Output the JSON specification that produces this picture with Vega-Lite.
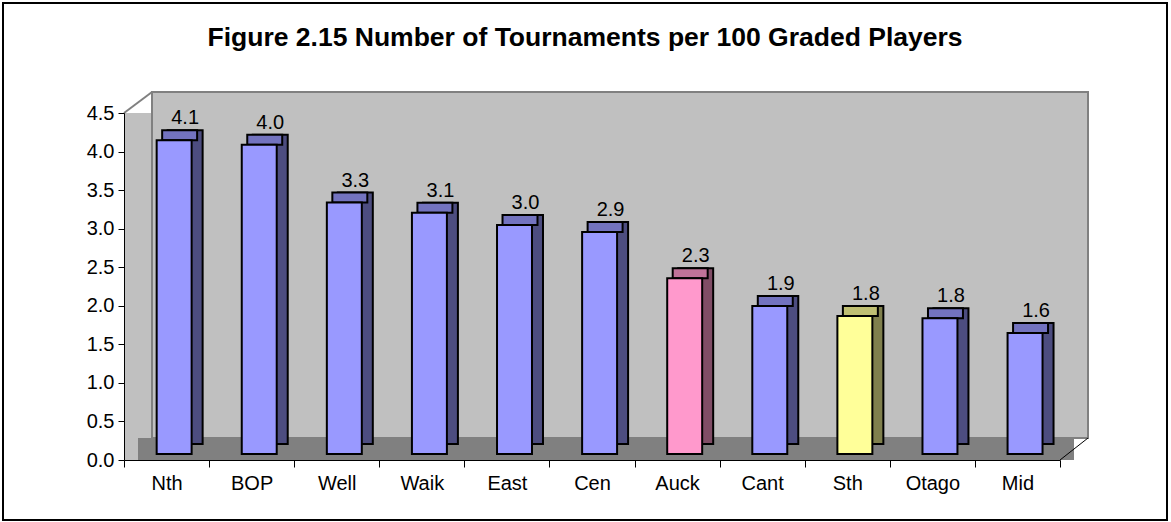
{
  "$schema": "https://vega.github.io/schema/vega-lite/v6.json",
  "width": 1164,
  "height": 517,
  "autosize": "none",
  "padding": {"left": 3, "top": 3, "right": 4, "bottom": 2},
  "background": "white",
  "config": {
    "view": {"stroke": "black", "strokeWidth": 2},
    "font": "Liberation Sans"
  },
  "title": {
    "text": "Figure 2.15 Number of Tournaments per 100 Graded Players",
    "font": "Liberation Sans",
    "fontSize": 26.5,
    "fontWeight": "bold",
    "color": "black",
    "anchor": "middle",
    "offset": -69,
    "baseline": "alphabetic"
  },
  "data": {
    "values": [
      {"cat": "Nth", "value": 4.07},
      {"cat": "BOP", "value": 4.01},
      {"cat": "Well", "value": 3.26},
      {"cat": "Waik", "value": 3.13},
      {"cat": "East", "value": 2.97},
      {"cat": "Cen", "value": 2.88},
      {"cat": "Auck", "value": 2.28},
      {"cat": "Cant", "value": 1.92},
      {"cat": "Sth", "value": 1.79},
      {"cat": "Otago", "value": 1.76},
      {"cat": "Mid", "value": 1.57}
    ]
  },
  "layer": [
    {
      "data": {"values": [{}]},
      "mark": {"type": "rect", "fill": "#C0C0C0", "strokeWidth": 0},
      "encoding": {
        "x": {
          "datum": "Nth", "type": "nominal", "bandPosition": 0,
          "scale": {"domain": ["Nth","BOP","Well","Waik","East","Cen","Auck","Cant","Sth","Otago","Mid"], "range": [121, 1057], "paddingInner": 0, "paddingOuter": 0},
          "axis": {"title": null, "orient": "bottom", "offset": -60, "zindex": 1, "tickBand": "extent", "tickSize": 7, "tickColor": "black", "tickWidth": 1, "domainColor": "black", "domainWidth": 1, "labelAngle": 0, "labelFontSize": 20, "labelFont": "Liberation Sans", "labelColor": "black", "labelPadding": 6, "grid": false}
        },
        "x2": {"datum": "Mid", "bandPosition": 1},
        "y": {
          "datum": 0, "type": "quantitative",
          "scale": {"domain": [0, 4.5], "range": [457, 110], "nice": false},
          "axis": {"title": null, "orient": "left", "offset": -121, "zindex": 1, "values": [0, 0.5, 1, 1.5, 2, 2.5, 3, 3.5, 4, 4.5], "format": ".1f", "tickSize": 6, "tickColor": "black", "tickWidth": 1, "domainColor": "black", "domainWidth": 1, "labelFontSize": 20, "labelFont": "Liberation Sans", "labelColor": "black", "labelPadding": 4, "grid": false}
        },
        "y2": {"datum": 4.5}
      }
    },
    {
      "data": {"values": [{}]},
      "mark": {"type": "rect", "fill": "#C0C0C0", "stroke": "#808080", "strokeWidth": 2, "xOffset": 28, "x2Offset": 28, "yOffset": -22, "y2Offset": -21},
      "encoding": {
        "x": {"datum": "Nth", "type": "nominal", "bandPosition": 0},
        "x2": {"datum": "Mid", "bandPosition": 1},
        "y": {"datum": 0, "type": "quantitative"},
        "y2": {"datum": 4.5}
      }
    },
    {
      "data": {"values": [{}]},
      "mark": {"type": "rect", "fill": "#808080", "strokeWidth": 0, "xOffset": 14, "x2Offset": 14, "yOffset": 0, "y2Offset": -22},
      "encoding": {
        "x": {"datum": "Nth", "type": "nominal", "bandPosition": 0},
        "x2": {"datum": "Mid", "bandPosition": 1},
        "y": {"datum": 0, "type": "quantitative"},
        "y2": {"datum": 0}
      }
    },
    {
      "data": {"values": [{}]},
      "mark": {"type": "rule", "stroke": "#808080", "strokeWidth": 2, "x2Offset": 28, "y2Offset": -21},
      "encoding": {
        "x": {"datum": "Nth", "type": "nominal", "bandPosition": 0},
        "x2": {"datum": "Nth", "bandPosition": 0},
        "y": {"datum": 4.5, "type": "quantitative"},
        "y2": {"datum": 4.5}
      }
    },
    {
      "data": {"values": [{}]},
      "mark": {"type": "rule", "stroke": "black", "strokeWidth": 1, "x2Offset": 28, "y2Offset": -22},
      "encoding": {
        "x": {"datum": "Mid", "type": "nominal", "bandPosition": 1},
        "x2": {"datum": "Mid", "bandPosition": 1},
        "y": {"datum": 0, "type": "quantitative"},
        "y2": {"datum": 0}
      }
    },
    {
      "mark": {"type": "bar", "width": {"band": 0.411}, "xOffset": 18.6, "x2Offset": 18.6, "yOffset": -16, "y2Offset": -16, "stroke": "black", "strokeWidth": 2},
      "encoding": {
        "x": {"field": "cat", "type": "nominal"},
        "y": {"field": "value", "type": "quantitative"},
        "fill": {"condition": [{"test": "datum.cat === 'Auck'", "value": "#804D66"}, {"test": "datum.cat === 'Sth'", "value": "#80804D"}], "value": "#4D4D80"}
      }
    },
    {
      "mark": {"type": "bar", "width": {"band": 0.411}, "xOffset": 13.1, "x2Offset": 13.1, "yOffset": -16, "y2Offset": -6, "stroke": "black", "strokeWidth": 2},
      "encoding": {
        "x": {"field": "cat", "type": "nominal"},
        "y": {"field": "value", "type": "quantitative"},
        "y2": {"field": "value"},
        "fill": {"condition": [{"test": "datum.cat === 'Auck'", "value": "#BF7399"}, {"test": "datum.cat === 'Sth'", "value": "#BFBF73"}], "value": "#7373BF"}
      }
    },
    {
      "mark": {"type": "bar", "width": {"band": 0.411}, "xOffset": 7.6, "x2Offset": 7.6, "yOffset": -6, "y2Offset": -6, "stroke": "black", "strokeWidth": 2},
      "encoding": {
        "x": {"field": "cat", "type": "nominal"},
        "y": {"field": "value", "type": "quantitative"},
        "fill": {"condition": [{"test": "datum.cat === 'Auck'", "value": "#FF99CC"}, {"test": "datum.cat === 'Sth'", "value": "#FFFF99"}], "value": "#9999FF"}
      }
    },
    {
      "mark": {"type": "text", "fontSize": 20, "font": "Liberation Sans", "color": "black", "baseline": "alphabetic", "align": "center", "xOffset": 18.6, "yOffset": -22},
      "encoding": {
        "x": {"field": "cat", "type": "nominal"},
        "y": {"field": "value", "type": "quantitative"},
        "text": {"field": "value", "type": "quantitative", "format": ".1f"}
      }
    }
  ]
}
